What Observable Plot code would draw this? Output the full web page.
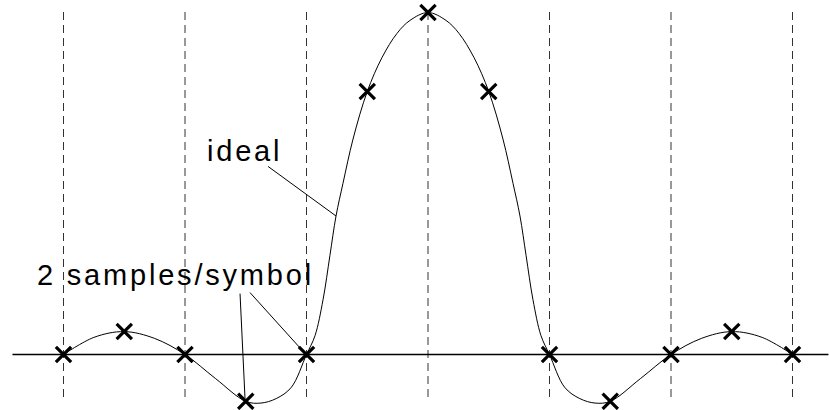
<!DOCTYPE html>
<html>
<head>
<meta charset="utf-8">
<script src="https://cdn.jsdelivr.net/npm/d3@7"></script>
<script src="https://cdn.jsdelivr.net/npm/@observablehq/plot@0.6"></script>
<style>
html,body{margin:0;padding:0;background:#fff;}
#chart{width:829px;height:410px;overflow:hidden;}
</style>
</head>
<body>
<div id="chart"></div>
<script>
// symbol times (units of T) for the dashed grid
const symbolTimes = [-3, -2, -1, 0, 1, 2, 3];
// sampled points (2 samples/symbol)
const sampleT = [-3, -2.5, -2, -1.5, -1, -0.5, 0, 0.5, 1, 1.5, 2, 2.5, 3];
const sampleV = [0, 0.067, 0, -0.137, 0, 0.769, 1, 0.769, 0, -0.137, 0, 0.067, 0];
// ideal pulse (left half; right half mirrors it)
const halfT = [-3, -2.75, -2.5, -2.25, -2, -1.75, -1.5, -1.375, -1.25, -1.125, -1, -0.93, -0.864, -0.807, -0.757, -0.7, -0.617, -0.5, -0.379, -0.255, -0.148];
const halfV = [0, 0.05, 0.067, 0.047, 0, -0.07, -0.137, -0.142, -0.129, -0.096, 0, 0.055, 0.16, 0.29, 0.405, 0.5, 0.63, 0.769, 0.868, 0.939, 0.977];
const peakT = 0, peakV = 1;
// labels
const labelText = ["ideal", "2 samples/symbol"];
const labelT = [-1.819, -3.218];
const labelV = [0.567, 0.202];
// leader lines [t1, v1] -> [t2, v2]
const leaderT1 = [-1.317, -1.547, -1.465];
const leaderV1 = [0.550, 0.178, 0.181];
const leaderT2 = [-0.757, -1.506, -1.012];
const leaderV2 = [0.405, -0.129, 0.003];
// axis extents
const axisT = [-3.416, 3.30];
const gridV = [1, -0.14];

const samples = sampleT.map((t, i) => ({t, v: sampleV[i]}));
const curve = [
  ...halfT.map((t, i) => ({t, v: halfV[i]})),
  {t: peakT, v: peakV},
  ...halfT.map((t, i) => ({t: -t, v: halfV[i]})).reverse()
];
const labels = labelText.map((s, i) => ({s, t: labelT[i], v: labelV[i]}));
const leaders = leaderT1.map((t, i) => ({t1: t, v1: leaderV1[i], t2: leaderT2[i], v2: leaderV2[i]}));

const chart = Plot.plot({
  width: 829,
  height: 410,
  margin: 0,
  style: {background: "#fff", fontFamily: "'Liberation Sans', Arial, sans-serif"},
  x: {domain: [-3, 3], range: [63, 792], axis: null},
  y: {domain: [0, 1], range: [354, 12], axis: null},
  marks: [
    Plot.ruleX(symbolTimes, {x: d => d, y1: gridV[0], y2: gridV[1], stroke: "#333", strokeWidth: 1, strokeDasharray: "8,5"}),
    Plot.ruleY([0], {x1: axisT[0], x2: axisT[1], stroke: "#000", strokeWidth: 1.5}),
    Plot.line(curve, {x: "t", y: "v", curve: "catmull-rom", stroke: "#000", strokeWidth: 1}),
    Plot.link(leaders, {x1: "t1", y1: "v1", x2: "t2", y2: "v2", stroke: "#000", strokeWidth: 1}),
    Plot.dot(samples, {x: "t", y: "v", symbol: "times", r: 7, stroke: "#000", strokeWidth: 3.2}),
    Plot.text(labels, {x: "t", y: "v", text: "s", textAnchor: "start", lineAnchor: "bottom", fontSize: 29, fill: "#000"})
  ]
});
chart.querySelectorAll("text").forEach(t => t.style.letterSpacing = "2.8px");
document.getElementById("chart").appendChild(chart);
</script>
</body>
</html>
